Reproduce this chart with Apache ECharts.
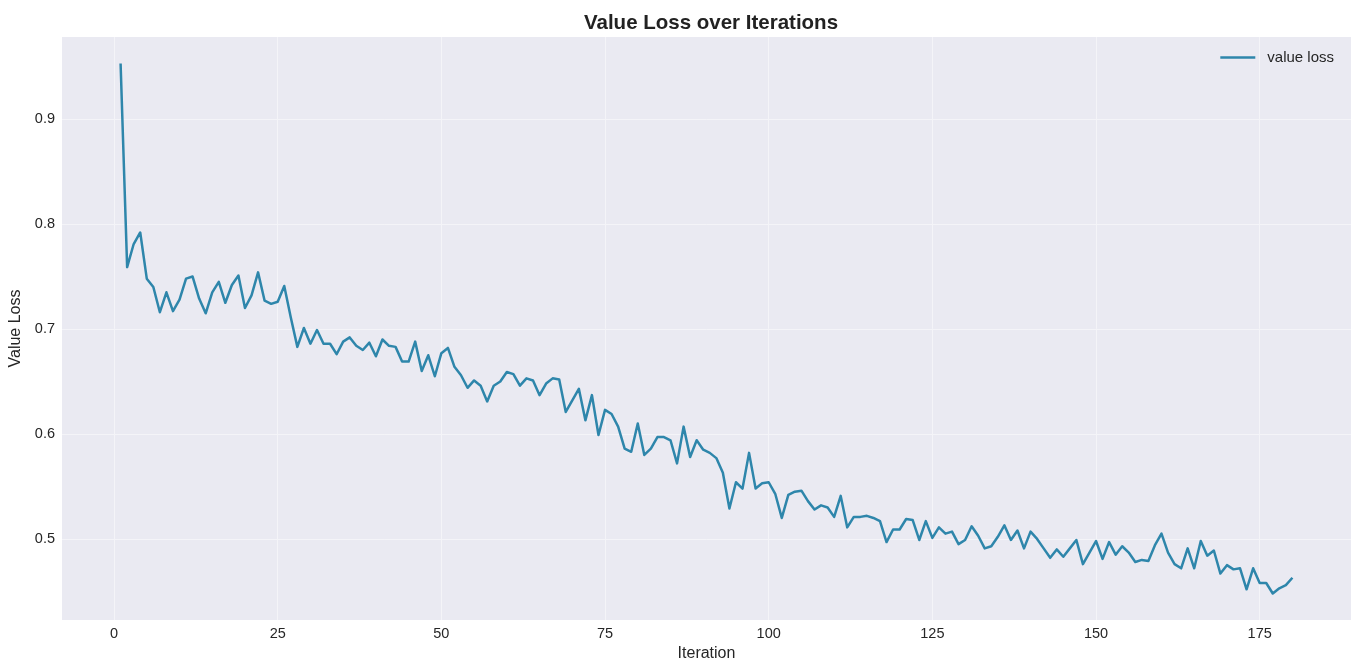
<!DOCTYPE html>
<html>
<head>
<meta charset="utf-8">
<script src="https://cdn.jsdelivr.net/npm/echarts@6/dist/echarts.min.js"></script>
<style>
html,body{margin:0;padding:0;background:#fff;}
#chart{width:1357px;height:666px;}
</style>
</head>
<body>
<div id="chart"></div>
<script>
const seriesName = 'value loss';
const valueLoss = [
0.953,0.759,0.781,0.792,0.748,0.740,0.716,0.735,0.717,0.728,
0.748,0.750,0.729,0.715,0.735,0.745,0.725,0.742,0.751,0.720,
0.732,0.754,0.727,0.724,0.726,0.741,0.711,0.683,0.701,0.686,
0.699,0.686,0.686,0.676,0.688,0.692,0.684,0.680,0.687,0.674,
0.690,0.684,0.683,0.669,0.669,0.688,0.660,0.675,0.655,0.677,
0.682,0.664,0.656,0.644,0.651,0.646,0.631,0.646,0.650,0.659,
0.657,0.646,0.653,0.651,0.637,0.648,0.653,0.652,0.621,0.632,
0.643,0.613,0.637,0.599,0.623,0.619,0.607,0.586,0.583,0.610,
0.580,0.586,0.597,0.597,0.594,0.572,0.607,0.578,0.594,0.585,
0.582,0.577,0.563,0.529,0.554,0.548,0.582,0.548,0.553,0.554,
0.543,0.520,0.542,0.545,0.546,0.536,0.528,0.532,0.530,0.521,
0.541,0.511,0.521,0.521,0.522,0.520,0.517,0.497,0.509,0.509,
0.519,0.518,0.499,0.517,0.501,0.511,0.505,0.507,0.495,0.499,
0.512,0.503,0.491,0.493,0.502,0.513,0.499,0.508,0.491,0.507,
0.500,0.491,0.482,0.490,0.483,0.491,0.499,0.476,0.487,0.498,
0.481,0.497,0.485,0.493,0.487,0.478,0.480,0.479,0.494,0.505,
0.487,0.476,0.472,0.491,0.472,0.498,0.484,0.489,0.467,0.475,
0.471,0.472,0.452,0.472,0.458,0.458,0.448,0.453,0.456,0.463
];
const iterations = valueLoss.map((v, i) => i + 1);
const xTicks = [0, 25, 50, 75, 100, 125, 150, 175];
const yTicks = [0.5, 0.6, 0.7, 0.8, 0.9];

const xMinD = Math.min(...iterations), xMaxD = Math.max(...iterations);
const yMinD = Math.min(...valueLoss), yMaxD = Math.max(...valueLoss);
const xPad = (xMaxD - xMinD) * 0.05, yPad = (yMaxD - yMinD) * 0.05;

const font = '"Liberation Sans", Arial, sans-serif';
const txt = '#262626';
const lineColor = '#2E86AB';
const gridColor = '#F4F4F8';

const chart = echarts.init(document.getElementById('chart'), null, {renderer: 'canvas'});
chart.setOption({
  backgroundColor: '#ffffff',
  animation: false,
  title: {
    text: 'Value Loss over Iterations',
    left: 706, top: 8, textAlign: 'center',
    textStyle: {fontFamily: font, fontSize: 20.5, fontWeight: 'bold', color: '#222222'}
  },
  legend: {
    right: 18, top: 45,
    itemWidth: 35, itemHeight: 14, itemGap: 10,
    symbolKeepAspect: true,
    textStyle: {fontFamily: font, fontSize: 15, color: txt, padding: [0, 0, 0, 7]},
    data: [{name: seriesName, icon: 'path://M0,0L35,0L35,2.5L0,2.5Z', itemStyle: {color: lineColor}}]
  },
  grid: {
    left: 62, right: 6, top: 37, bottom: 46,
    show: true, backgroundColor: '#EAEAF2', borderWidth: 0,
    containLabel: false, outerBoundsMode: 'none'
  },
  xAxis: {
    type: 'value',
    min: xMinD - xPad, max: xMaxD + xPad,
    name: 'Iteration', nameLocation: 'middle', nameGap: 26,
    nameTextStyle: {fontFamily: font, fontSize: 16, color: txt},
    axisLine: {show: false},
    axisTick: {show: false, customValues: xTicks},
    axisLabel: {customValues: xTicks, fontFamily: font, fontSize: 14.5, color: txt, margin: 6,
      formatter: v => String(v)},
    splitLine: {show: true, lineStyle: {color: gridColor, width: 1}}
  },
  yAxis: {
    type: 'value',
    min: yMinD - yPad, max: yMaxD + yPad,
    name: 'Value Loss', nameLocation: 'middle', nameGap: 37,
    nameTextStyle: {fontFamily: font, fontSize: 16, color: txt},
    axisLine: {show: false},
    axisTick: {show: false, customValues: yTicks},
    axisLabel: {customValues: yTicks, fontFamily: font, fontSize: 14.5, color: txt, margin: 7,
      formatter: v => v.toFixed(1)},
    splitLine: {show: true, lineStyle: {color: gridColor, width: 1}}
  },
  series: [{
    name: seriesName,
    type: 'line',
    data: iterations.map((x, i) => [x, valueLoss[i]]),
    symbol: 'none',
    showSymbol: false,
    lineStyle: {color: lineColor, width: 2.5, join: 'round'},
    itemStyle: {color: lineColor}
  }]
});
</script>
</body>
</html>
